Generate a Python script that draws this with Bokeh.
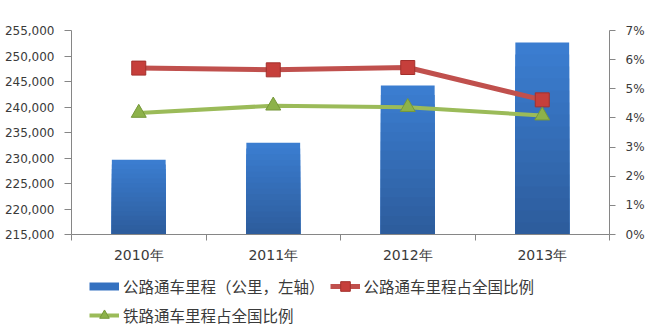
import numpy as np
from bokeh.plotting import figure
from bokeh.layouts import column
from bokeh.models import (Range1d, LinearAxis, FixedTicker, NumeralTickFormatter,
                          Legend, LegendItem)
from bokeh.embed import file_html
from bokeh.resources import INLINE

years = ["2010年", "2011年", "2012年", "2013年"]
road_km = [229650, 233000, 244200, 252650]
road_share = [0.0571, 0.0565, 0.0573, 0.0462]
rail_share = [0.0417, 0.0442, 0.0437, 0.0408]
left_ticks = [215000, 220000, 225000, 230000, 235000, 240000, 245000, 250000, 255000]
pct_ticks = [0.0, 0.01, 0.02, 0.03, 0.04, 0.05, 0.06, 0.07]
legend_labels = ["公路通车里程（公里，左轴）", "公路通车里程占全国比例", "铁路通车里程占全国比例"]

n = len(years)
xs = [i + 0.5 for i in range(n)]
bounds = [float(i) for i in range(n + 1)]

BLUE = "#3471c0"
BLUE_TOP = (59, 125, 208)
BLUE_BOT = (45, 93, 157)
RED = "#c0504d"
GREEN = "#9bbb59"
AXIS = "#868686"
TEXT = "#3a3a3a"

p = figure(width=649, height=265, x_range=Range1d(0, n),
           y_range=Range1d(left_ticks[0], left_ticks[-1]),
           output_backend="svg", toolbar_location=None,
           min_border_left=71, min_border_right=40, min_border_top=30, min_border_bottom=31,
           x_axis_location=None, y_axis_location=None)
p.outline_line_color = None
p.xgrid.grid_line_color = None
p.ygrid.grid_line_color = None
p.extra_y_ranges = {"pct": Range1d(pct_ticks[0], pct_ticks[-1])}

# bars with a vertical shading (light top, dark bottom), layered
base = left_ticks[0]
heights = np.array(road_km, dtype=float) - base
layers = 16
for k in range(layers):
    frac = 1.0 - k / layers
    t = k / (layers - 1)
    c = tuple(int(round(BLUE_TOP[j] + (BLUE_BOT[j] - BLUE_TOP[j]) * t)) for j in range(3))
    p.vbar(x=xs, top=base + heights * frac, bottom=base, width=0.4,
           fill_color="#%02x%02x%02x" % c, line_color=None)

def red_series(fig, xv, yv, **kw):
    ln = fig.line(xv, yv, line_color=RED, line_width=5, **kw)
    mk = fig.scatter(xv, yv, marker="square", size=14,
                     fill_color="#c63f3b", line_color="#a3302c", line_width=1, **kw)
    return [ln, mk]

def green_series(fig, xv, yv, **kw):
    ln = fig.line(xv, yv, line_color=GREEN, line_width=4, **kw)
    mk = fig.scatter(xv, yv, marker="triangle", size=15,
                     fill_color="#8db24a", line_color="#76983a", line_width=1, **kw)
    return [ln, mk]

red_series(p, xs, road_share, y_range_name="pct")
green_series(p, xs, rail_share, y_range_name="pct")

ax_b = LinearAxis(ticker=FixedTicker(ticks=xs, minor_ticks=bounds),
                  major_label_overrides={xv: yl for xv, yl in zip(xs, years)},
                  major_tick_out=0, major_tick_in=0,
                  minor_tick_out=6, minor_tick_in=0,
                  axis_line_color=AXIS, minor_tick_line_color=AXIS,
                  major_label_standoff=6,
                  major_label_text_font="DejaVu Sans",
                  major_label_text_font_size="14px",
                  major_label_text_color=TEXT)
p.add_layout(ax_b, "below")

ax_l = LinearAxis(ticker=FixedTicker(ticks=left_ticks),
                  formatter=NumeralTickFormatter(format="0,0"),
                  major_tick_out=7, major_tick_in=0,
                  minor_tick_line_color=None,
                  axis_line_color=AXIS, major_tick_line_color=AXIS,
                  major_label_standoff=10,
                  major_label_text_font="DejaVu Sans",
                  major_label_text_font_size="12px",
                  major_label_text_color=TEXT)
p.add_layout(ax_l, "left")

ax_r = LinearAxis(y_range_name="pct", ticker=FixedTicker(ticks=pct_ticks),
                  formatter=NumeralTickFormatter(format="0%"),
                  major_tick_out=6, major_tick_in=0,
                  minor_tick_line_color=None,
                  axis_line_color=AXIS, major_tick_line_color=AXIS,
                  major_label_standoff=10,
                  major_label_text_font="DejaVu Sans",
                  major_label_text_font_size="12px",
                  major_label_text_color=TEXT)
p.add_layout(ax_r, "right")

# legend strip below the chart (keys drawn from non-visible NaN samples)
q = figure(width=649, height=63, x_range=Range1d(0, 1), y_range=Range1d(0, 1),
           output_backend="svg", toolbar_location=None,
           min_border_left=71, min_border_right=40, min_border_top=0, min_border_bottom=0,
           x_axis_location=None, y_axis_location=None)
q.outline_line_color = None
q.xgrid.grid_line_color = None
q.ygrid.grid_line_color = None
nan = [np.nan]
bar_key = q.line(x=nan, y=nan, line_color=BLUE, line_width=8, line_cap="butt")
red_key = red_series(q, nan, nan)
green_key = green_series(q, nan, nan)

legend = Legend(items=[LegendItem(label=legend_labels[0], renderers=[bar_key]),
                       LegendItem(label=legend_labels[1], renderers=red_key),
                       LegendItem(label=legend_labels[2], renderers=green_key)],
                location=(18, 1), orientation="horizontal", ncols=2,
                padding=0, margin=0, spacing=5,
                glyph_width=30, glyph_height=24, label_standoff=4,
                border_line_color=None, background_fill_alpha=0,
                label_text_font="Noto Sans CJK SC", label_text_font_size="15.5px",
                label_text_color=TEXT)
q.add_layout(legend, "center")

layout = column(p, q, spacing=0)
open("out.html", "w").write(file_html(layout, INLINE))
